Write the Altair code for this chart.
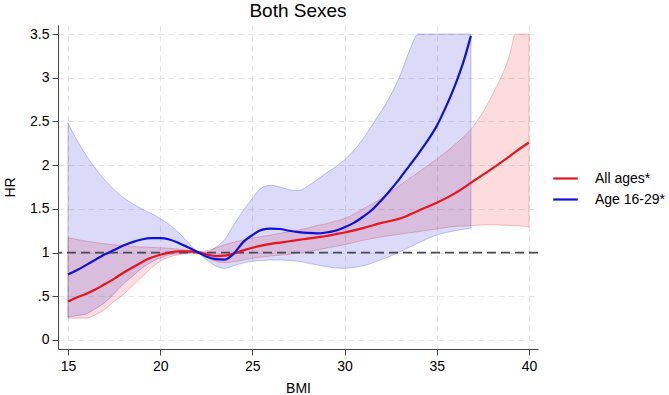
import altair as alt
import pandas as pd

RED = "#e8141c"
BLUE = "#1010d8"
FONT = "Liberation Sans"

# ---- All ages* ----
bmi_all = [15, 15.5, 16, 16.5, 17, 17.5, 18, 18.5, 19, 19.5, 20, 20.5, 21, 21.5, 22,
           22.5, 23, 23.5, 24, 24.5, 25, 25.5, 26, 26.5, 27, 27.5, 28, 28.5, 29, 29.5, 30,
           31, 32, 33, 34, 35, 36, 37, 38, 39, 39.25, 40]
hr_all = [0.44, 0.49, 0.53, 0.58, 0.64, 0.70, 0.77, 0.83, 0.89, 0.94, 0.975, 1.0, 1.015, 1.015, 1.005,
          0.98, 0.96, 0.965, 0.99, 1.025, 1.055, 1.08, 1.1, 1.115, 1.13, 1.145, 1.16, 1.175, 1.19, 1.21, 1.23,
          1.28, 1.34, 1.39, 1.48, 1.57, 1.68, 1.82, 1.96, 2.11, 2.15, 2.26]
hi_all = [1.17, 1.15, 1.13, 1.115, 1.1, 1.09, 1.08, 1.07, 1.065, 1.06, 1.055, 1.05, 1.04, 1.025, 1.005,
          1.02, 1.05, 1.09, 1.12, 1.145, 1.165, 1.185, 1.2, 1.22, 1.24, 1.26, 1.28, 1.31, 1.33, 1.36, 1.39,
          1.5, 1.62, 1.77, 1.92, 2.07, 2.24, 2.45, 2.8, 3.3, 3.5, 3.5]
lo_all = [0.25, 0.25, 0.25, 0.29, 0.35, 0.44, 0.52, 0.62, 0.72, 0.82, 0.9, 0.95, 0.975, 0.99, 1.0,
          0.95, 0.9, 0.885, 0.895, 0.915, 0.935, 0.95, 0.96, 0.97, 0.98, 0.995, 1.01, 1.03, 1.05, 1.07, 1.09,
          1.14, 1.18, 1.21, 1.24, 1.27, 1.3, 1.31, 1.32, 1.31, 1.31, 1.29]

# ---- Age 16-29* ----
bmi_young = [15, 15.5, 16, 16.5, 17, 17.5, 18, 18.5, 19, 19.5, 20, 20.5, 21, 21.5, 22,
             22.5, 23, 23.5, 24, 24.5, 25, 25.5, 26, 26.5, 27, 27.5, 28, 28.5, 29, 29.5, 30,
             30.5, 31, 31.5, 32, 32.5, 33, 33.5, 34, 34.5, 35, 35.5, 36, 36.5, 36.85]
hr_young = [0.75, 0.80, 0.86, 0.92, 0.98, 1.03, 1.08, 1.12, 1.15, 1.165, 1.165, 1.15, 1.11, 1.06, 1.01,
            0.955, 0.925, 0.92, 0.99, 1.12, 1.2, 1.26, 1.275, 1.27, 1.25, 1.235, 1.225, 1.22, 1.23, 1.25, 1.29,
            1.34, 1.41, 1.49, 1.6, 1.72, 1.85, 1.99, 2.13, 2.28, 2.45, 2.67, 2.92, 3.22, 3.48]
hi_young = [2.48, 2.28, 2.11, 1.96, 1.83, 1.72, 1.63, 1.56, 1.5, 1.45, 1.39, 1.32, 1.23, 1.12, 1.02,
            1.0, 1.06, 1.15, 1.32, 1.48, 1.62, 1.74, 1.77, 1.75, 1.72, 1.71, 1.76, 1.83, 1.91, 1.98, 2.06,
            2.17, 2.3, 2.46, 2.62, 2.8, 3.02, 3.3, 3.5, 3.5, 3.5, 3.5, 3.5, 3.5, 3.5]
lo_young = [0.26, 0.28, 0.3, 0.36, 0.43, 0.53, 0.64, 0.73, 0.82, 0.89, 0.94, 0.975, 0.99, 1.0, 0.995,
            0.92, 0.85, 0.82, 0.85, 0.88, 0.9, 0.91, 0.915, 0.915, 0.91, 0.9, 0.88, 0.86, 0.84, 0.825, 0.82,
            0.83, 0.85, 0.88, 0.92, 0.96, 1.01, 1.06, 1.11, 1.16, 1.2, 1.23, 1.25, 1.27, 1.28]

series_names = ["All ages*", "Age 16-29*"]
x_ticks = [15, 20, 25, 30, 35, 40]
y_ticks = [0, 0.5, 1, 1.5, 2, 2.5, 3, 3.5]

df_all = pd.DataFrame({"bmi": bmi_all, "hr": hr_all, "lo": lo_all, "hi": hi_all, "series": series_names[0]})
df_young = pd.DataFrame({"bmi": bmi_young, "hr": hr_young, "lo": lo_young, "hi": hi_young, "series": series_names[1]})

x_scale = alt.Scale(domain=[14.46, 40.49], nice=False, zero=False)
y_scale = alt.Scale(domain=[-0.103, 3.604], nice=False, zero=False)
x_axis = alt.Axis(values=x_ticks, title="BMI", format="d", titlePadding=8)
y_axis = alt.Axis(values=y_ticks, title="HR", titlePadding=12,
                  labelExpr="datum.value == 0.5 ? '.5' : format(datum.value, '~g')")

cscale = alt.Scale(domain=series_names, range=[RED, BLUE])


def band(d, col):
    return alt.Chart(d).mark_area(color=col, fillOpacity=0.15, stroke=col, strokeOpacity=0.3,
                                  strokeWidth=0.8, interpolate="monotone").encode(
        x=alt.X("bmi:Q", scale=x_scale, axis=x_axis),
        y=alt.Y("lo:Q", scale=y_scale, axis=y_axis),
        y2="hi:Q",
    )


def line(d):
    return alt.Chart(d).mark_line(strokeWidth=2.2, interpolate="monotone").encode(
        x=alt.X("bmi:Q", scale=x_scale, axis=x_axis),
        y=alt.Y("hr:Q", scale=y_scale, axis=y_axis),
        color=alt.Color("series:N", scale=cscale, sort=series_names,
                        legend=alt.Legend(title=None, orient="none", legendX=494, legendY=140,
                                          symbolType="stroke", symbolStrokeWidth=2.2,
                                          symbolSize=600, labelFontSize=14, labelFont=FONT,
                                          labelColor="black", labelOffset=16, rowPadding=0)),
    )


ref = alt.Chart(pd.DataFrame({"ref": [1]})).mark_rule(color="#4a4a55", strokeWidth=1.6, strokeDash=[9, 5]).encode(
    y=alt.Y("ref:Q", scale=y_scale, axis=y_axis)
)

chart = alt.layer(band(df_all, RED), band(df_young, BLUE), ref, line(df_all), line(df_young)).properties(
    width=480, height=324,
    autosize=alt.AutoSizeParams(type="none"),
    padding={"left": 58, "top": 25, "right": 131, "bottom": 46},
    title=alt.TitleParams("Both Sexes", fontSize=19, font=FONT, fontWeight="normal",
                          anchor="middle", color="black", offset=4),
).configure_view(stroke=None).configure_axis(
    labelFont=FONT, titleFont=FONT, labelFontSize=14, titleFontSize=14,
    labelColor="black", titleColor="black", titleFontWeight="normal",
    domainColor="#444", domainWidth=1, tickColor="#444", tickSize=6, labelPadding=3,
    gridColor="#e6e6e6", gridDash=[6, 4], gridWidth=1,
).configure_axisX(labelPadding=4)

chart.save("out.html", embed_options={"renderer": "svg", "actions": False})
